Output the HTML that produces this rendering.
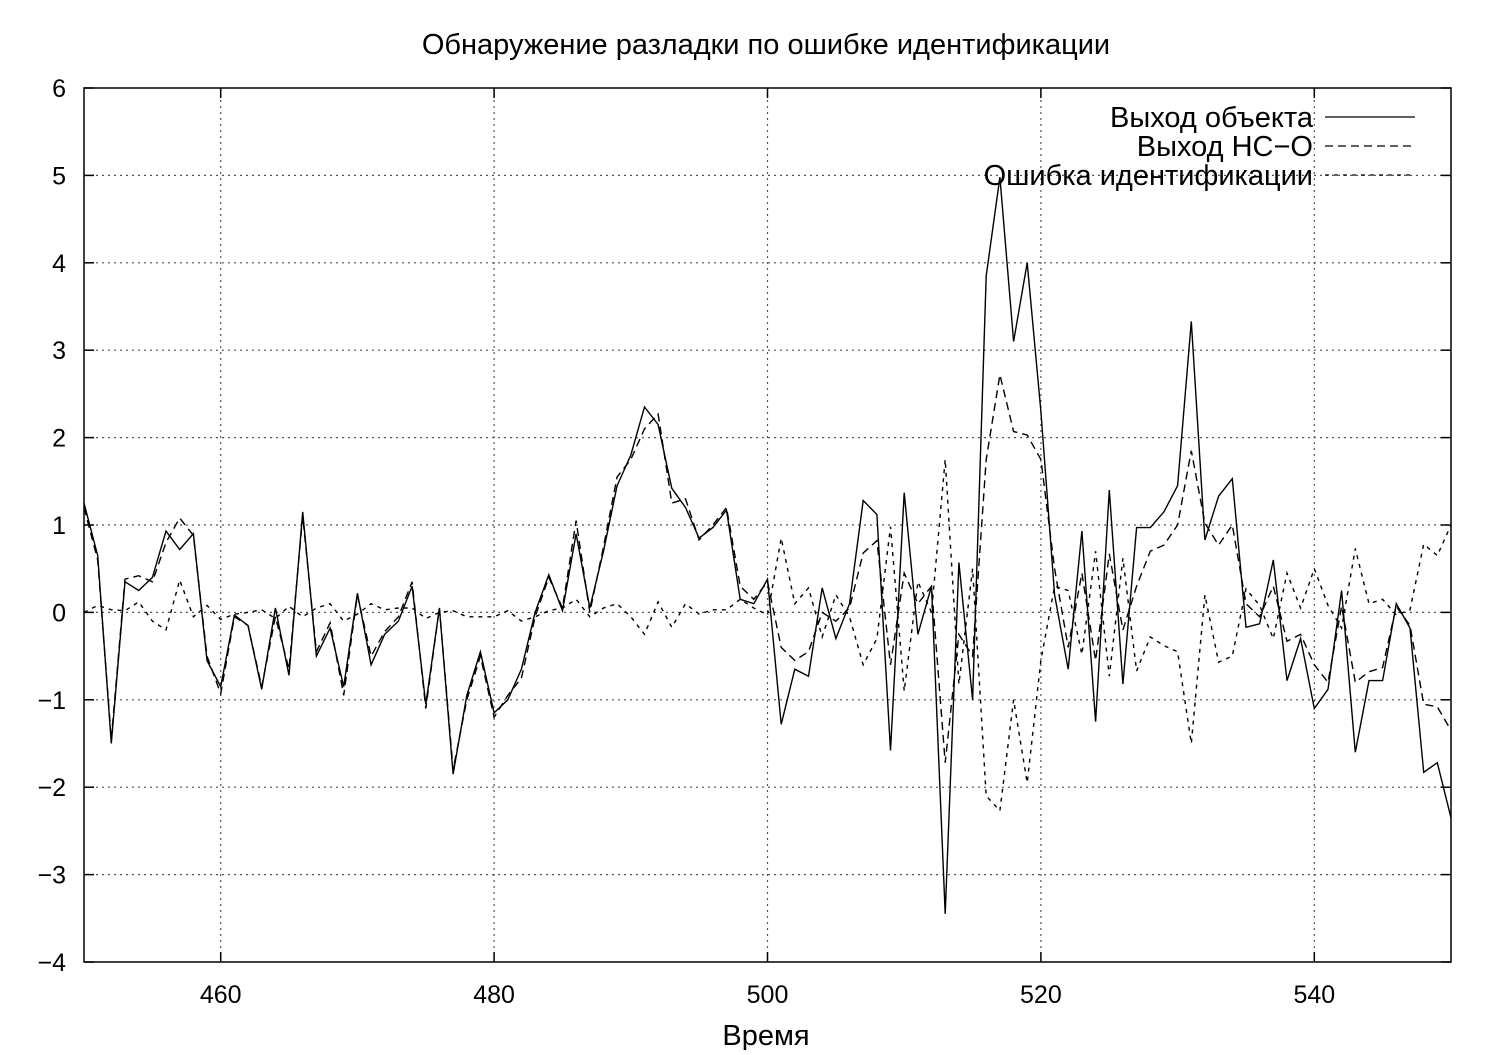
<!DOCTYPE html>
<html><head><meta charset="utf-8"><style>
body{margin:0;background:#fff}
svg text{font-family:"Liberation Sans","DejaVu Sans",sans-serif;fill:#000}
</style></head><body>
<svg width="1500" height="1050" xmlns="http://www.w3.org/2000/svg">
<g id="grid"></g>
<g id="axes"></g>
<g id="series"></g>
<text x="766" y="54" font-size="29" text-anchor="middle">Обнаружение разладки по ошибке идентификации</text>
<text x="766" y="1045" font-size="29" text-anchor="middle">Время</text>
<g font-size="29">
<text x="1313" y="127" text-anchor="end">Выход объекта</text>
<line x1="1325" y1="117" x2="1415" y2="117" stroke="#000" stroke-width="1.3"/>
<text x="1313" y="156" text-anchor="end">Выход НС−О</text>
<line x1="1325" y1="146" x2="1415" y2="146" stroke="#000" stroke-width="1.3" stroke-dasharray="8,5"/>
<text x="1313" y="185" text-anchor="end">Ошибка идентификации</text>
<line x1="1325" y1="175" x2="1415" y2="175" stroke="#000" stroke-width="1.3" stroke-dasharray="4,5"/>
</g>
</svg>
<script>
const xTicks=[460,480,500,520,540];
const yTicks=[-4,-3,-2,-1,0,1,2,3,4,5,6];
const yTickLabels=["−4","−3","−2","−1","0","1","2","3","4","5","6"];
const objectOut=[1.25,0.65,-1.5,0.35,0.25,0.4,0.93,0.72,0.9,-0.55,-0.85,-0.03,-0.15,-0.88,0.05,-0.72,1.15,-0.5,-0.18,-0.85,0.22,-0.6,-0.25,-0.1,0.3,-1.05,0.05,-1.85,-0.95,-0.45,-1.15,-1.0,-0.65,0.0,0.43,0.02,0.9,0.05,0.7,1.45,1.8,2.35,2.15,1.42,1.2,0.85,0.97,1.17,0.15,0.1,0.38,-1.28,-0.65,-0.73,0.28,-0.3,0.1,1.28,1.12,-1.58,1.37,-0.25,0.3,-3.45,0.57,-1.0,3.85,4.98,3.1,4.0,2.3,0.2,-0.65,0.93,-1.25,1.4,-0.82,0.97,0.97,1.15,1.45,3.33,0.83,1.33,1.53,-0.17,-0.13,0.6,-0.78,-0.3,-1.1,-0.88,0.25,-1.6,-0.78,-0.78,0.1,-0.18,-1.83,-1.72,-2.35];
const nnOut=[1.2,0.6,-1.45,0.38,0.42,0.35,0.8,1.08,0.88,-0.5,-0.93,-0.05,-0.15,-0.85,-0.05,-0.65,1.1,-0.45,-0.12,-0.95,0.2,-0.5,-0.22,-0.05,0.35,-1.1,0.05,-1.8,-1.0,-0.5,-1.2,-0.95,-0.75,-0.05,0.4,0.05,1.05,0.0,0.75,1.55,1.75,2.1,2.27,1.25,1.3,0.83,1.0,1.2,0.3,0.15,0.35,-0.4,-0.55,-0.45,0.0,-0.1,0.05,0.68,0.82,-0.6,0.45,0.1,0.3,-1.72,-0.25,-0.5,1.75,2.72,2.07,2.03,1.75,0.5,-0.4,0.45,-0.55,0.67,-0.2,0.3,0.7,0.77,1.0,1.85,1.02,0.77,1.0,0.1,-0.05,0.3,-0.33,-0.25,-0.6,-0.8,0.07,-0.8,-0.68,-0.63,0.07,-0.15,-1.05,-1.08,-1.35];
const errOut=[0.0,0.08,0.03,0.02,0.12,-0.1,-0.2,0.37,-0.05,0.08,-0.08,-0.02,0.0,0.03,-0.07,0.07,-0.05,0.05,0.1,-0.1,-0.02,0.1,0.03,0.05,0.05,-0.07,0.0,0.02,-0.05,-0.05,-0.05,0.02,-0.1,-0.05,0.02,0.05,0.15,-0.05,0.05,0.1,-0.05,-0.25,0.12,-0.17,0.1,-0.02,0.03,0.03,0.15,0.05,-0.03,0.85,0.1,0.28,-0.28,0.2,-0.05,-0.6,-0.3,0.98,-0.9,0.35,0.0,1.75,-0.82,0.5,-2.1,-2.27,-1.0,-1.95,-0.55,0.3,0.25,-0.48,0.7,-0.73,0.62,-0.67,-0.28,-0.38,-0.45,-1.5,0.2,-0.57,-0.5,0.27,0.08,-0.3,0.45,0.05,0.5,0.08,-0.18,0.73,0.1,0.15,-0.03,0.03,0.78,0.65,1.0];
const startT=450;
const L=84,R=1451,T=88,B=962,x0=450,x1=550,y0=-4,y1=6;
const X=v=>L+(v-x0)/(x1-x0)*(R-L);
const Y=v=>B-(v-y0)/(y1-y0)*(B-T);
const NS="http://www.w3.org/2000/svg";
function mk(tag,attrs,parent){const e=document.createElementNS(NS,tag);for(const k in attrs)e.setAttribute(k,attrs[k]);parent.appendChild(e);return e;}
const grid=document.getElementById('grid'),axes=document.getElementById('axes'),series=document.getElementById('series');
xTicks.forEach(t=>{
  const g=mk('line',{x1:X(t),x2:X(t),y1:T,y2:B,stroke:'#555','stroke-width':1.2,'stroke-dasharray':'2,4'},grid);
  
  
  const a=mk('line',{x1:X(t),x2:X(t),y1:B,y2:B-10,stroke:'#000','stroke-width':1.5},axes);
  
  
  const b=mk('line',{x1:X(t),x2:X(t),y1:T,y2:T+10,stroke:'#000','stroke-width':1.5},axes);
  
  
  const tx=mk('text',{x:X(t),y:1003,'font-size':25,'text-anchor':'middle'},axes);tx.textContent=t;
  
  
});
yTicks.forEach((t,i)=>{
  if(t>y0&&t<y1){
    const g=mk('line',{x1:L,x2:R,y1:Y(t),y2:Y(t),stroke:'#555','stroke-width':1.2,'stroke-dasharray':'2,4'},grid);
    
    
  }
  const a=mk('line',{x1:L,x2:L+10,y1:Y(t),y2:Y(t),stroke:'#000','stroke-width':1.5},axes);
  
  
  const b=mk('line',{x1:R,x2:R-10,y1:Y(t),y2:Y(t),stroke:'#000','stroke-width':1.5},axes);
  
  
  const tx=mk('text',{x:66,y:Y(t)+9,'font-size':25,'text-anchor':'end'},axes);tx.textContent=yTickLabels[i];
  
  
});
const fr=mk('rect',{x:L,y:T,width:R-L,height:B-T,fill:'none',stroke:'#000','stroke-width':1.5},axes);


function line(vals,dash,name){
  const d=vals.map((v,i)=>(i?'L':'M')+X(startT+i).toFixed(1)+','+Y(v).toFixed(1)).join('');
  const p=mk('path',{d:d,fill:'none',stroke:'#000','stroke-width':1.4},series);
  if(dash)p.setAttribute('stroke-dasharray',dash);
  
  
}
line(objectOut,null,'object-output-line');
line(nnOut,'8,5','nn-output-line');
line(errOut,'4,5','identification-error-line');
</script>
</body></html>
